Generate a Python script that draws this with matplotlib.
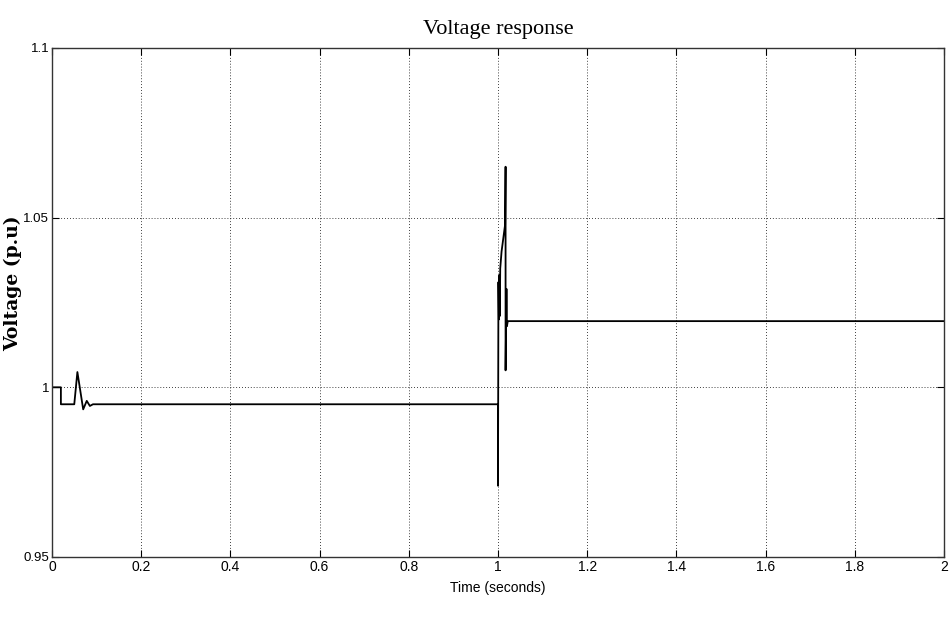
import matplotlib
matplotlib.use("Agg")
import matplotlib.pyplot as plt

# voltage trace (time in s, voltage in p.u.)
t = [0, 0.02, 0.02, 0.05, 0.057, 0.07, 0.078, 0.085, 0.092, 0.999, 1.0, 1.0,
     1.001, 1.002, 1.003, 1.004, 1.005, 1.008, 1.012, 1.016, 1.017, 1.017,
     1.019, 1.020, 1.022, 2.0]
v = [1.0, 1.0, 0.995, 0.995, 1.0045, 0.9935, 0.996, 0.9945, 0.995, 0.995, 0.995, 0.971,
     1.031, 1.020, 1.033, 1.021, 1.035, 1.040, 1.044, 1.048, 1.065, 1.005,
     1.029, 1.018, 1.0195, 1.0195]

xticks = [0, 0.2, 0.4, 0.6, 0.8, 1, 1.2, 1.4, 1.6, 1.8, 2]
xticklabels = ["0", "0.2", "0.4", "0.6", "0.8", "1", "1.2", "1.4", "1.6", "1.8", "2"]
yticks = [0.95, 1, 1.05, 1.1]
yticklabels = ["0.95", "1", "1.05", "1.1"]

tick_font = ["Liberation Sans", "DejaVu Sans"]
serif = ["Liberation Serif", "DejaVu Serif"]

fig = plt.figure(figsize=(9.5, 6.23), dpi=100)
ax = fig.add_axes([0.0547, 0.106, 0.939, 0.817])

ax.plot(t, v, color="black", lw=1.3)

ax.set_xlim(0, 2)
ax.set_ylim(0.95, 1.1)
ax.set_xticks(xticks)
ax.set_xticklabels(xticklabels, family=tick_font, fontsize=10)
ax.set_yticks(yticks)
ax.set_yticklabels(yticklabels, family=tick_font, fontsize=9.5)
ax.tick_params(direction="in", top=True, right=True, length=5, width=0.8, pad=2)
ax.grid(True, linestyle=(0, (1, 2.5)), color="black", lw=0.6)
for s in ax.spines.values():
    s.set_linewidth(1.0)
    s.set_color("#333333")

ax.set_title("Voltage response", family=serif, fontsize=16, pad=10)
ax.set_xlabel("Time (seconds)", family=tick_font, fontsize=10, labelpad=5)
fig.text(0.0135, 0.545, "Voltage (p.u)", family=["DejaVu Serif"], fontsize=13.5,
         fontweight="bold", rotation=90, ha="center", va="center")

fig.savefig("out.png", dpi=100)
